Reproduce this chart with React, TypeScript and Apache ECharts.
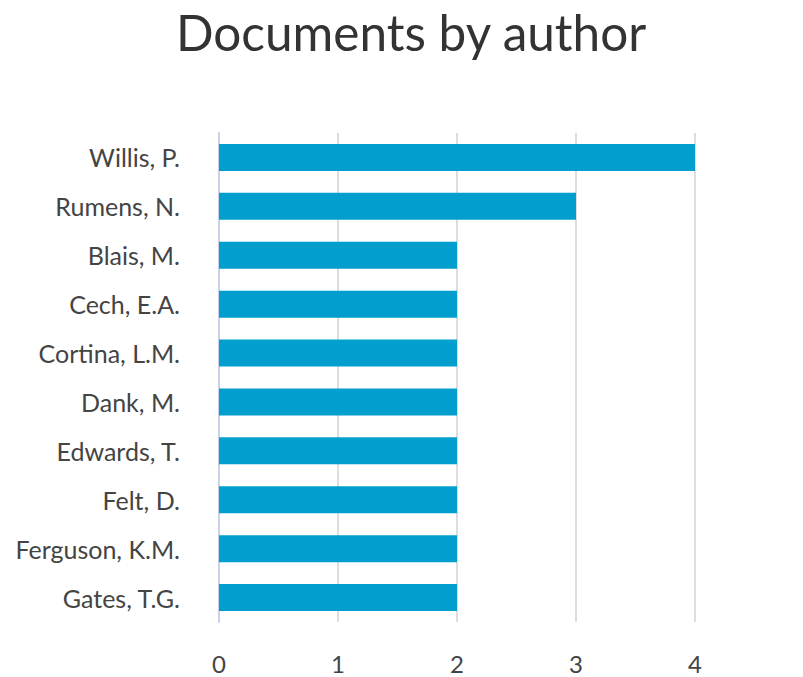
import React, { useEffect, useRef } from "react";
import * as echarts from "echarts";

const authors = [
  "Willis, P.",
  "Rumens, N.",
  "Blais, M.",
  "Cech, E.A.",
  "Cortina, L.M.",
  "Dank, M.",
  "Edwards, T.",
  "Felt, D.",
  "Ferguson, K.M.",
  "Gates, T.G.",
];
const documents = [4, 3, 2, 2, 2, 2, 2, 2, 2, 2];
const titleText = "Documents by author";

export default function App() {
  const ref = useRef<HTMLDivElement>(null);
  useEffect(() => {
    if (!ref.current) return;
    const chart = echarts.init(ref.current, undefined, { renderer: "svg" });
    chart.setOption({
      animation: false,
      backgroundColor: "#ffffff",
      title: {
        text: titleText,
        left: 171,
        top: 2,
        textStyle: {
          fontFamily: "Lato",
          fontSize: 49.5,
          fontWeight: "normal",
          color: "#333333",
        },
      },
      grid: {
        left: 219,
        right: -11,
        top: 133,
        bottom: 55,
        containLabel: false,
        outerBoundsMode: "none",
      },
      xAxis: {
        type: "value",
        min: 0,
        max: 5,
        interval: 1,
        axisLine: { show: false },
        axisTick: { show: false },
        splitLine: { show: true, lineStyle: { color: "#dddddd", width: 2 } },
        axisLabel: {
          fontFamily: "Lato",
          fontSize: 24,
          color: "#444444",
          margin: 29,
          showMaxLabel: true,
          hideOverlap: false,
        },
      },
      yAxis: {
        type: "category",
        data: authors,
        inverse: true,
        axisLine: { show: true, lineStyle: { color: "#c8d3ea", width: 2 } },
        axisTick: { show: false },
        splitLine: { show: false },
        axisLabel: {
          fontFamily: "Lato",
          fontSize: 25,
          color: "#444444",
          margin: 39,
        },
      },
      series: [
        {
          type: "bar",
          data: documents,
          barWidth: 27,
          itemStyle: { color: "#029fce" },
        },
      ],
    });
    return () => chart.dispose();
  }, []);
  return (
    <div
      ref={ref}
      style={{ position: "fixed", left: 0, top: 0, width: 803, height: 677 }}
    />
  );
}
